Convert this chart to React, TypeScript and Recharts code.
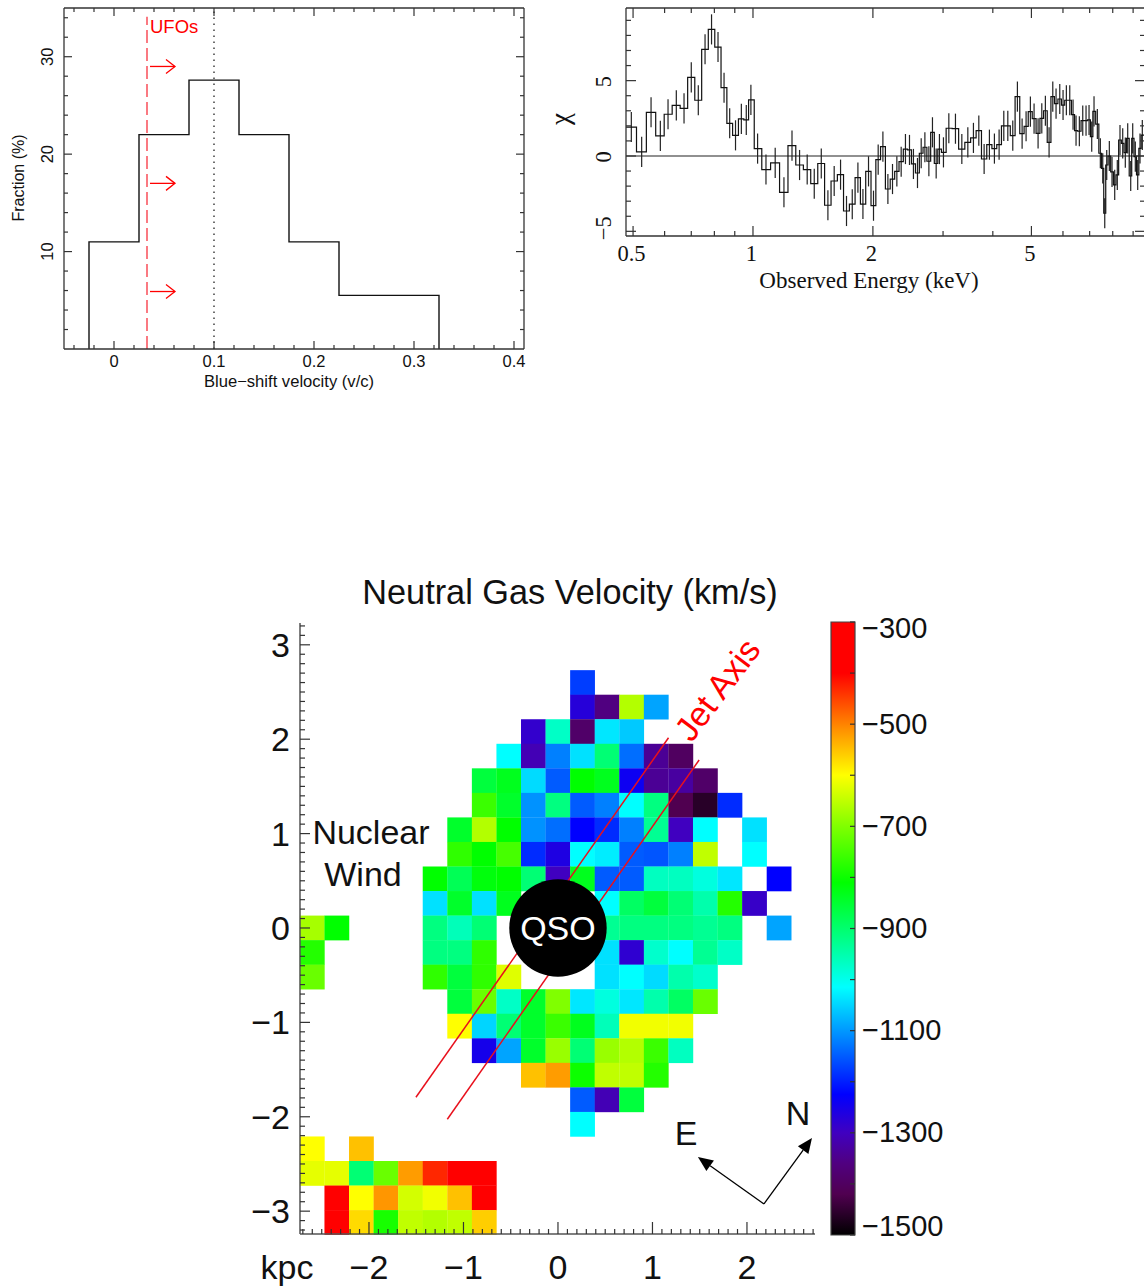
import {
  Bar,
  BarChart,
  ComposedChart,
  ErrorBar,
  Line,
  LineChart,
  ReferenceDot,
  ReferenceLine,
  Scatter,
  XAxis,
  YAxis
} from "recharts";

const SANS = "Liberation Sans, Arial, sans-serif";
const SERIF = "Liberation Serif, Times New Roman, serif";
const AXIS = "#333";

// top left: blue-shift histogram
const histEdges = [-0.025, 0.025, 0.075, 0.125, 0.175, 0.225, 0.325, 0.325];
const histFractions = [0, 11, 22, 27.6, 22, 11, 5.5, 0];
const histXTicks = [-0.04, -0.02, 0, 0.02, 0.04, 0.06, 0.08, 0.1, 0.12, 0.14, 0.16, 0.18, 0.2, 0.22, 0.24, 0.26, 0.28, 0.3, 0.32, 0.34, 0.36, 0.38, 0.4];
const histYTicks = [2, 4, 6, 8, 10, 12, 14, 16, 18, 20, 22, 24, 26, 28, 30, 32, 34];
const ufoArrowLevels = [29, 17, 5.9];
const histData = histEdges.map((edge, i) => ({ edge, fraction: histFractions[i] }));

// top right: chi residuals per energy bin
const chiEnergy = [
  0.48, 0.495, 0.5255, 0.5548, 0.5854, 0.612, 0.642, 0.6713, 0.7, 0.729,
  0.758, 0.787, 0.817, 0.846, 0.874, 0.904, 0.935, 0.962, 0.988, 1.027,
  1.078, 1.137, 1.196, 1.253, 1.309, 1.368, 1.425, 1.484, 1.542, 1.599,
  1.659, 1.717, 1.775, 1.834, 1.888, 1.95, 2.007, 2.062, 2.119, 2.181,
  2.24, 2.297, 2.355, 2.414, 2.471, 2.528, 2.588, 2.644, 2.701, 2.764,
  2.822, 2.883, 2.938, 3.007, 3.102, 3.223, 3.344, 3.462, 3.576, 3.689,
  3.804, 3.922, 4.037, 4.148, 4.262, 4.362, 4.489, 4.611, 4.738, 4.848,
  4.97, 5.077, 5.196, 5.309, 5.42, 5.537, 5.657, 5.765, 5.89, 6.003,
  6.119, 6.24, 6.36, 6.471, 6.596, 6.727, 6.856, 6.976, 7.085, 7.18,
  7.319, 7.447, 7.551, 7.639, 7.727, 7.844, 7.967, 8.092, 8.214, 8.343,
  8.475, 8.603, 8.723, 8.876, 8.979, 9.115, 9.242, 9.366, 9.491, 9.64
];
const chiValue = [
  1.92, 1.92, 0.27, 2.9, 1.33, 2.77, 3.36, 3.16, 5.22, 3.7,
  7.08, 8.4, 7.23, 4.53, 2.17, 1.37, 2.46, 2.39, 3.72, 0.49,
  -0.9, -0.46, -2.41, 0.69, -0.6, -0.9, -1.84, -0.5, -3.27, -1.66,
  -1.24, -3.65, -3.2, -1.44, -3.19, -1.02, -3.3, -0.24, 0.62, -2.19,
  -1.53, -1.02, -0.38, 0.46, 0.4, -0.53, -1.13, 0.18, 0.58, -0.35,
  1.57, -0.5, 0.46, 0.24, 1.84, 1.81, 0.46, 0.9, 1.2, 1.68,
  -0.2, 0.75, 0.49, 0.75, 2, 2, 1.35, 3.94, 1.48, 1.97,
  2.94, 2.48, 1.5, 2.5, 3, 0.9, 3.94, 3.47, 3.78, 3.38,
  3.7, 3.7, 2.74, 1.68, 1.64, 2.35, 2.35, 2.39, 1.28, 2.96,
  2.12, 0.18, -0.82, -3.8, -0.6, 0, -1.06, -1.92, -1.26, 1.06,
  0.84, 0.22, 1.17, -1.33, 1.17, -0.04, -1.26, 0.5, 1.39, 1.39
];
const chiXTicks = [0.5, 0.6, 0.7, 0.8, 0.9, 1, 2, 3, 4, 5, 6, 7, 8, 9];
const chiXLabelled = [0.5, 1, 2, 5];
const chiYTicks = [-5, -4, -3, -2, -1, 0, 1, 2, 3, 4, 5, 6, 7, 8, 9];
const chiData = chiEnergy.map((energy, i) => ({
  energy,
  chi: chiValue[i],
  // the first and last points only close the outer bins
  err: i === 0 || i === chiEnergy.length - 1 ? 0 : 1
}));

// bottom: neutral gas velocity map (km/s), null = no data
const _ = null;
const colCenters = [-2.6, -2.34, -2.08, -1.82, -1.56, -1.3, -1.04, -0.78, -0.52, -0.26, 0, 0.26, 0.52, 0.78, 1.04, 1.3, 1.56, 1.82, 2.08, 2.34];
const rowCenters = [2.6, 2.34, 2.08, 1.82, 1.56, 1.3, 1.04, 0.78, 0.52, 0.26, 0, -0.26, -0.52, -0.78, -1.04, -1.3, -1.56, -1.82, -2.08, -2.34, -2.6, -2.86, -3.12];
const velocityRows = [
  [_, _, _, _, _, _, _, _, _, _, _, -1175, _, _, _, _, _, _, _, _],
  [_, _, _, _, _, _, _, _, _, _, _, -1270, -1360, -660, -1090, _, _, _, _, _],
  [_, _, _, _, _, _, _, _, _, -1285, -970, -1390, -1035, -1060, _, _, _, _, _, _],
  [_, _, _, _, _, _, _, _, -1015, -1310, -1120, -1040, -905, -1135, -1340, -1400, _, _, _, _],
  [_, _, _, _, _, _, _, -860, -835, -1045, -1150, -810, -835, -1240, -1340, -1330, -1390, _, _, _],
  [_, _, _, _, _, _, _, -760, -845, -1105, -915, -1150, -1120, -1015, -915, -1420, -1460, -1190, _, _],
  [_, _, _, _, _, _, -845, -660, -810, -1105, -1135, -1225, -1190, -1120, -930, -1300, -1015, _, -1040, _],
  [_, _, _, _, _, _, -770, -810, -750, -1190, -1260, -1015, -1030, -1150, -1155, -1120, -650, _, -1015, _],
  [_, _, _, _, _, -810, -880, -820, -810, -905, -1300, -835, -1150, -1150, -965, -965, -990, -1035, _, -1225],
  [_, _, _, _, _, -1040, -845, -1040, -835, _, _, _, -1015, -890, -860, -905, -950, -780, -1290, _],
  [-670, -810, _, _, _, -915, -960, -905, _, _, _, _, -930, -915, -915, -915, -930, -915, _, -1090],
  [-780, _, _, _, _, -915, -915, -770, _, _, _, _, -1040, -1280, -975, -1015, -930, -970, _, _],
  [-720, _, _, _, _, -770, -860, -770, -625, _, _, _, -1040, -1015, -1045, -950, -975, _, _, _],
  [_, _, _, _, _, _, -860, -720, -970, -845, -700, -1035, -990, -1035, -950, -890, -720, _, _, _],
  [_, _, _, _, _, _, -600, -1050, -905, -845, -760, -835, -960, -610, -610, -610, _, _, _, _],
  [_, _, _, _, _, _, _, -1250, -1090, -845, -680, -905, -680, -660, -760, -965, _, _, _, _],
  [_, _, _, _, _, _, _, _, _, -550, -520, -800, -650, -650, -780, _, _, _, _, _],
  [_, _, _, _, _, _, _, _, _, _, _, -1150, -1310, -860, _, _, _, _, _, _],
  [_, _, _, _, _, _, _, _, _, _, _, -1015, _, _, _, _, _, _, _, _],
  [-600, _, -550, _, _, _, _, _, _, _, _, _, _, _, _, _, _, _, _, _],
  [-620, -620, -905, -720, -520, -430, -380, -380, _, _, _, _, _, _, _, _, _, _, _, _],
  [_, -380, -600, -515, -635, -610, -550, -380, _, _, _, _, _, _, _, _, _, _, _, _],
  [_, -380, -570, -790, -650, -660, -650, -560, _, _, _, _, _, _, _, _, _, _, _, _]
];
const mapIntTicks = [-3, -2, -1, 0, 1, 2, 3];
const jetLines = [
  [[1.17, 2.015], [-1.503, -1.793]],
  [[1.494, 1.78], [-1.171, -2.026]]
];
const compassOrigin = [2.18, -2.924];
const compassEast = [1.481, -2.426];
const compassNorth = [2.688, -2.225];

const colormapValues = [-1500, -1420, -1360, -1300, -1225, -1120, -1015, -915, -810, -700, -600, -510, -400, -300];
const colormapColors = ["#000000", "#500050", "#500080", "#4000c0", "#0000ff", "#0080ff", "#00ffff", "#00ff80", "#00ff00", "#80ff00", "#ffff00", "#ff9000", "#ff0000", "#ff0000"];
const colorbarTicks = [-1500, -1400, -1300, -1200, -1100, -1000, -900, -800, -700, -600, -500, -400, -300];
const colorbarLabelled = [-1500, -1300, -1100, -900, -700, -500, -300];
const colorbarData = [{ name: "velocity", range: [-1500, -300] }];

const hexToRgb = (hex: string) => [1, 3, 5].map((p) => parseInt(hex.slice(p, p + 2), 16));

function velocityColor(v: number) {
  let i = 0;
  while (i < colormapValues.length - 2 && v > colormapValues[i + 1]) i++;
  const t = (v - colormapValues[i]) / (colormapValues[i + 1] - colormapValues[i]);
  const a = hexToRgb(colormapColors[i]);
  const b = hexToRgb(colormapColors[i + 1]);
  const [r, g, bl] = a.map((c, k) => Math.round(c + (b[k] - c) * t));
  return `rgb(${r},${g},${bl})`;
}

const mapCells = velocityRows.flatMap((row, r) =>
  row.flatMap((v, c) => (v === null ? [] : [{ x: colCenters[c], y: rowCenters[r], v }]))
);

// tenths of a kpc for the minor ticks of the map axes
const tenths = (from: number, to: number) => {
  const out: number[] = [];
  for (let i = from; i <= to; i++) out.push(i / 10);
  return out;
};

const minus = (s: string) => s.replace("-", "\u2212");

type TickOpts = {
  side: "bottom" | "left" | "right";
  isMajor: (v: number) => boolean;
  majorLen: number;
  minorLen: number;
  label?: (v: number) => string | null;
  offset?: number;
  font?: string;
  size?: number;
  rotated?: boolean;
  labelDx?: number;
  labelDy?: (v: number) => number;
  // distance to the opposite frame side, which gets the same tick mirrored
  span?: number;
};

function makeTick(o: TickOpts) {
  return function AxisTick(props: any) {
    const { x, y, payload } = props;
    const v = payload.value;
    const len = o.isMajor(v) ? o.majorLen : o.minorLen;
    const text = o.label ? o.label(v) : null;
    const off = o.offset ?? 0;
    const dx = o.labelDx ?? 0;
    const dy = o.labelDy ? o.labelDy(v) : 0;
    let mark = { x2: x, y2: y - len };
    let far = null;
    if (o.side === "bottom" && o.span) far = { x1: x, y1: y - o.span, x2: x, y2: y - o.span + len };
    if (o.side === "left") {
      mark = { x2: x + len, y2: y };
      if (o.span) far = { x1: x + o.span, y1: y, x2: x + o.span - len, y2: y };
    }
    if (o.side === "right") mark = { x2: x - len, y2: y };
    let label = null;
    if (text) {
      const common = { fontFamily: o.font, fontSize: o.size, fill: "#111" };
      if (o.side === "bottom") {
        label = <text x={x + dx} y={y + off} textAnchor="middle" {...common}>{text}</text>;
      } else if (o.side === "left" && o.rotated) {
        const tx = x - off;
        const ty = y + dy;
        label = <text x={tx} y={ty} textAnchor="middle" transform={`rotate(-90 ${tx} ${ty})`} {...common}>{text}</text>;
      } else if (o.side === "left") {
        label = <text x={x - off} y={y + dy} textAnchor="end" {...common}>{text}</text>;
      } else {
        label = <text x={x + off} y={y + dy} textAnchor="start" {...common}>{text}</text>;
      }
    }
    return (
      <g>
        <line x1={x} y1={y} {...mark} stroke={AXIS} strokeWidth={1.2} />
        {far && <line {...far} stroke={AXIS} strokeWidth={1.2} />}
        {label}
      </g>
    );
  };
}

function arrowShape(color: string, headLen: number, headHalf: number, filled: boolean) {
  return function ArrowLine(props: any) {
    const { x1, y1, x2, y2 } = props;
    const a = Math.atan2(y2 - y1, x2 - x1);
    const bx = x2 - headLen * Math.cos(a);
    const by = y2 - headLen * Math.sin(a);
    const px = headHalf * Math.sin(a);
    const py = headHalf * Math.cos(a);
    const pts = `${bx + px},${by - py} ${x2},${y2} ${bx - px},${by + py}`;
    return (
      <g>
        <line x1={x1} y1={y1} x2={filled ? bx : x2} y2={filled ? by : y2} stroke={color} strokeWidth={1.3} />
        {filled ? <polygon points={pts} fill={color} /> : <polyline points={pts} fill="none" stroke={color} strokeWidth={1.3} />}
      </g>
    );
  };
}

const isTenth = (v: number) => Math.abs(v * 10 - Math.round(v * 10)) < 1e-6;
const isInt = (v: number) => Math.abs(v - Math.round(v)) < 1e-6;

function HistogramPanel() {
  const xMajor = (v: number) => isTenth(v);
  const yMajor = (v: number) => v % 10 === 0;
  return (
    <LineChart width={540} height={400} data={histData} margin={{ top: 8, right: 16, bottom: 50, left: 63 }}>
      <XAxis
        dataKey="edge"
        type="number"
        domain={[-0.05, 0.41]}
        ticks={histXTicks}
        interval={0}
        height={1}
        tickSize={0}
        tickMargin={0}
        tickLine={false}
        zIndex={700}
        axisLine={{ stroke: AXIS, strokeWidth: 1.3 }}
        tick={makeTick({ side: "bottom", isMajor: xMajor, majorLen: 8, minorLen: 4, label: (v) => (isTenth(v) && v >= 0 ? String(Number(v.toFixed(1))) : null), offset: 18, font: SANS, size: 16.5, span: 341 })}
      />
      <YAxis
        type="number"
        domain={[0, 35]}
        ticks={histYTicks}
        interval={0}
        width={1}
        tickSize={0}
        tickMargin={0}
        tickLine={false}
        zIndex={700}
        axisLine={{ stroke: AXIS, strokeWidth: 1.3 }}
        tick={makeTick({ side: "left", isMajor: yMajor, majorLen: 8, minorLen: 4, label: (v) => (v % 10 === 0 ? String(v) : null), offset: 11, font: SANS, size: 16.5, rotated: true, span: 460 })}
      />
      <ReferenceLine y={35} stroke={AXIS} strokeWidth={1.3} />
      <ReferenceLine x={0.41} stroke={AXIS} strokeWidth={1.3} />
      <Line dataKey="fraction" type="stepBefore" stroke="#111" strokeWidth={1.4} dot={false} isAnimationActive={false} />
      <ReferenceLine x={0.1} stroke="#222" strokeWidth={1.3} strokeDasharray="1.5 4.5" />
      <ReferenceLine segment={[{ x: 0.033, y: 0 }, { x: 0.033, y: 34.1 }]} stroke="#f8333f" strokeWidth={1.3} strokeDasharray="13 5" />
      {ufoArrowLevels.map((level) => (
        <ReferenceLine
          key={level}
          segment={[{ x: 0.036, y: level }, { x: 0.061, y: level }]}
          shape={arrowShape("#f00", 9, 7, false)}
        />
      ))}
      <text x={150} y={33} fontFamily={SANS} fontSize={18.5} fill="#f00">UFOs</text>
      <text x={289} y={387} textAnchor="middle" fontFamily={SANS} fontSize={16.6} fill="#111">{"Blue\u2212shift velocity (v/c)"}</text>
      <text x={24} y={178} textAnchor="middle" transform="rotate(-90 24 178)" fontFamily={SANS} fontSize={16} fill="#111">Fraction (%)</text>
    </LineChart>
  );
}

function ResidualPanel() {
  const xMajor = (v: number) => chiXLabelled.includes(v);
  const yMajor = (v: number) => v % 5 === 0;
  const xDomain = [0.48, 9.64];
  const yDomain = [-5.31, 9.82];
  return (
    <LineChart width={610} height={300} data={chiData} margin={{ top: 8, right: 5, bottom: 63, left: 85 }}>
      <XAxis
        dataKey="energy"
        type="number"
        scale="log"
        domain={xDomain}
        allowDataOverflow
        ticks={chiXTicks}
        interval={0}
        height={1}
        tickSize={0}
        tickMargin={0}
        tickLine={false}
        zIndex={700}
        axisLine={{ stroke: AXIS, strokeWidth: 1.3 }}
        tick={makeTick({ side: "bottom", isMajor: xMajor, majorLen: 10, minorLen: 5, label: (v) => (chiXLabelled.includes(v) ? String(v) : null), offset: 25, font: SERIF, size: 22.5, labelDx: -1.5, span: 228 })}
      />
      <YAxis
        type="number"
        domain={yDomain}
        allowDataOverflow
        ticks={chiYTicks}
        interval={0}
        width={1}
        tickSize={0}
        tickMargin={0}
        tickLine={false}
        zIndex={700}
        axisLine={{ stroke: AXIS, strokeWidth: 1.3 }}
        tick={makeTick({ side: "left", isMajor: yMajor, majorLen: 10, minorLen: 5, label: (v) => (v % 5 === 0 ? minus(String(v)) : null), offset: 15, font: SERIF, size: 22.5, rotated: true, span: 519, labelDy: (v) => (v === -5 ? -3 : 1) })}
      />
      <ReferenceLine y={9.82} stroke={AXIS} strokeWidth={1.3} />
      <ReferenceLine y={0} stroke="#222" strokeWidth={1.2} />
      <Line dataKey="chi" type="step" stroke="#111" strokeWidth={1.2} dot={false} isAnimationActive={false}>
        <ErrorBar dataKey="err" direction="y" width={0} stroke="#222" strokeWidth={1.2} isAnimationActive={false} />
      </Line>
      <text x={329} y={288} textAnchor="middle" fontFamily={SERIF} fontSize={23} fill="#111">Observed Energy (keV)</text>
      <text x={29} y={119} textAnchor="middle" transform="rotate(-90 29 119)" fontFamily={SERIF} fontSize={27} fill="#111">{"\u03c7"}</text>
    </LineChart>
  );
}

function MapCell(props: any) {
  const size = 24.8;
  return <rect x={props.cx - size / 2} y={props.cy - size / 2} width={size} height={size} fill={velocityColor(props.payload.v)} />;
}

function VelocityMap() {
  return (
    <ComposedChart width={1144} height={727} margin={{ top: 63, right: 329, bottom: 52, left: 299 }}>
      <XAxis
        dataKey="x"
        type="number"
        domain={[-2.73, 2.72]}
        ticks={tenths(-27, 27)}
        interval={0}
        height={1}
        tickSize={0}
        tickMargin={0}
        tickLine={false}
        axisLine={{ stroke: "#555", strokeWidth: 1.5 }}
        zIndex={700}
        tick={makeTick({ side: "bottom", isMajor: isInt, majorLen: 12, minorLen: 5, label: (v) => (mapIntTicks.includes(Math.round(v * 10) / 10) ? minus(String(Math.round(v))) : null), offset: 45, font: SANS, size: 34 })}
      />
      <YAxis
        dataKey="y"
        type="number"
        domain={[-3.242, 3.231]}
        ticks={tenths(-32, 32)}
        interval={0}
        width={1}
        tickSize={0}
        tickMargin={0}
        tickLine={false}
        axisLine={{ stroke: "#555", strokeWidth: 1.5 }}
        zIndex={700}
        tick={makeTick({ side: "left", isMajor: isInt, majorLen: 10, minorLen: 5, label: (v) => (mapIntTicks.includes(Math.round(v * 10) / 10) ? minus(String(Math.round(v))) : null), offset: 10, font: SANS, size: 34, labelDy: () => 12 })}
      />
      <Scatter data={mapCells} shape={MapCell} isAnimationActive={false} />
      {jetLines.map(([a, b]) => (
        <ReferenceLine key={a[0]} zIndex={610} segment={[{ x: a[0], y: a[1] }, { x: b[0], y: b[1] }]} stroke="#e8101c" strokeWidth={1.5} />
      ))}
      <ReferenceDot
        x={0}
        y={0}
        r={48.7}
        fill="#000"
        stroke="none"
        zIndex={620}
        label={{ value: "QSO", position: "center", fill: "#fff", fontSize: 34, fontFamily: SANS }}
      />
      <ReferenceLine
        segment={[{ x: compassOrigin[0], y: compassOrigin[1] }, { x: compassEast[0], y: compassEast[1] }]}
        shape={arrowShape("#000", 15, 6.5, true)}
      />
      <ReferenceLine
        segment={[{ x: compassOrigin[0], y: compassOrigin[1] }, { x: compassNorth[0], y: compassNorth[1] }]}
        shape={arrowShape("#000", 15, 6.5, true)}
      />
      <g fontFamily={SANS} fontSize={34} fill="#111" textAnchor="middle">
        <text x={570} y={44} fontSize={34.3}>Neutral Gas Velocity (km/s)</text>
        <text x={371} y={284}>Nuclear</text>
        <text x={363} y={326}>Wind</text>
        <text x={686} y={585}>E</text>
        <text x={798} y={565}>N</text>
        <text x={287} y={719}>kpc</text>
        <text x={718} y={141} fill="#f00" transform="rotate(-53 718 130)">Jet Axis</text>
      </g>
    </ComposedChart>
  );
}

function Colorbar() {
  const stopValues = [...colormapValues].reverse();
  const stopColors = [...colormapColors].reverse();
  return (
    <BarChart width={344} height={727} data={colorbarData} barCategoryGap={0} margin={{ top: 62, right: 288, bottom: 52, left: 31 }}>
      <defs>
        <linearGradient id="velocityScale" x1="0" y1="0" x2="0" y2="1">
          {stopValues.map((v, i) => (
            <stop key={v} offset={(-300 - v) / 1200} stopColor={stopColors[i]} />
          ))}
        </linearGradient>
      </defs>
      <XAxis dataKey="name" hide />
      <YAxis
        orientation="right"
        type="number"
        domain={[-1500, -300]}
        ticks={colorbarTicks}
        interval={0}
        width={1}
        tickSize={0}
        tickMargin={0}
        tickLine={false}
        axisLine={false}
        tick={makeTick({
          side: "right",
          isMajor: () => true,
          majorLen: 5,
          minorLen: 5,
          label: (v) => (colorbarLabelled.includes(v) ? minus(String(v)) : null),
          offset: 7,
          font: SANS,
          size: 29,
          labelDy: (v) => (v === -300 ? 16 : v === -1500 ? 1 : 9.5)
        })}
      />
      <Bar dataKey="range" fill="url(#velocityScale)" stroke="#444" strokeWidth={1.2} isAnimationActive={false} />
    </BarChart>
  );
}

export default function App() {
  return (
    <div style={{ position: "absolute", left: 0, top: 0, width: 1144, height: 1287, overflow: "hidden", background: "#fff" }}>
      <div style={{ position: "absolute", left: 0, top: 560 }}>
        <VelocityMap />
      </div>
      <div style={{ position: "absolute", left: 800, top: 560 }}>
        <Colorbar />
      </div>
      <div style={{ position: "absolute", left: 0, top: 0 }}>
        <HistogramPanel />
      </div>
      <div style={{ position: "absolute", left: 540, top: 0 }}>
        <ResidualPanel />
      </div>
    </div>
  );
}
